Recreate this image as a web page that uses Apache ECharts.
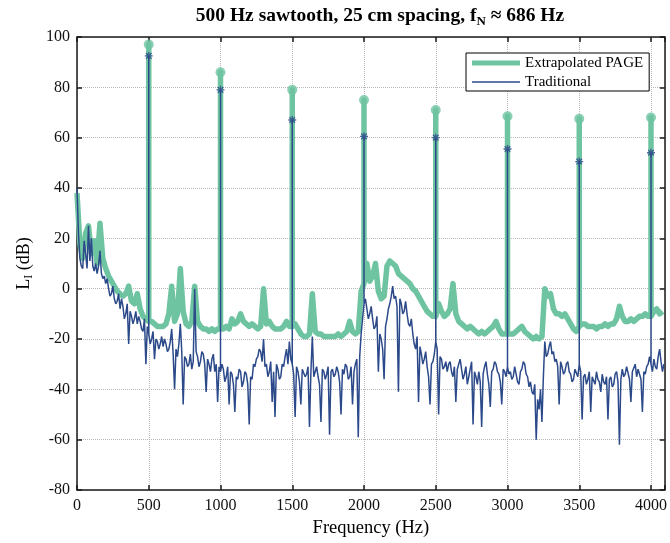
<!DOCTYPE html>
<html><head><meta charset="utf-8">
<script src="https://cdn.jsdelivr.net/npm/echarts@6/dist/echarts.min.js"></script>
<style>html,body{margin:0;padding:0;background:#fff}#c{width:670px;height:543px}</style>
</head><body><div id="c"></div>
<script>
// sample spacing of the level arrays (Hz)
const PAGE_STEP_HZ = 20;
const TRAD_STEP_HZ = 10;
// Extrapolated PAGE levels (dB), 0..4080 Hz every 20 Hz
const pageLevels = [
  38, 18, 12, 22, 25, 14, 19, 10, 26, 12,
  8, 5, 3, 1, -1, -2, -3, -2, 1, -5,
  -6, -2, -8, -11, -12, -13, -13, -14, -15, -15,
  -15, -14, -10, 1, -13, -10, 8, -9, -14, -15,
  -13, 1, -13, -15, -16, -16, -17, -16, -17, -16,
  -16, -16, -15, -16, -12, -14, -13, -10, -13, -14,
  -15, -14, -15, -16, -15, 0, -14, -13, -15, -16,
  -16, -16, -15, -13, -15, -15, -14, -16, -18, -19,
  -19, -18, -2, -17, -18, -18, -19, -19, -19, -19,
  -19, -18, -19, -18, -17, -13, -17, -18, -17, -1,
  2, 10, 3, 5, 10, -1, -4, -3, 9, 11,
  10, 9, 6, 5, 4, 3, 2, 0, -1, -3,
  -5, -7, -9, -10, -11, -11, -6, -9, -11, -10,
  -8, 2, -10, -13, -14, -15, -16, -15, -16, -17,
  -18, -17, -18, -17, -16, -15, -13, -16, -18, -18,
  -18, -18, -18, -17, -16, -15, -17, -18, -19, -20,
  -19, -20, -19, 0, -3, -2, -8, -10, -10, -11,
  -10, -12, -14, -16, -17, -15, -14, -14, -15, -15,
  -15, -16, -15, -15, -14, -15, -14, -14, -12, -7,
  -11, -13, -13, -12, -13, -12, -11, -11, -10, -11,
  -11, -9, -8, -10, -9
];
// Traditional levels (dB), 0..4090 Hz every 10 Hz
const tradLevels = [
  40, 22, 12, 9, 8, 19, 14, 8, 25, 11, 20, 9, 7, 10, 6, 9, 15, 6, 4, 5,
  2, 4, 0, -3, -2, 1, -4, -6, -5, -2, -8, -4, -7, -12, -10, -6, -22, -9, -11, -14,
  -12, -9, -14, -11, -13, -16, -17, -12, -30, -15, -18, -22, -20, -17, -28, -20, -21, -24, -22, -19,
  -23, -20, -22, -25, -24, -21, -16, -26, -40, -24, -27, -22, -14, -25, -46, -27, -28, -31, -30, -26,
  -32, -29, 0, -25, -27, -31, -29, -25, -26, -30, -41, -28, -30, -33, -28, -26, -33, -30, -45, -31,
  -33, -30, -32, -37, -35, -31, -46, -33, -34, -38, -49, -35, -36, -32, -33, -39, -37, -33, -34, -38,
  -54, -35, -36, -30, -31, -28, -27, -24, -25, -29, -20, -31, -30, -35, -33, -29, -45, -33, -51, -30,
  -32, -36, -35, -30, -31, -27, -24, -30, -21, -28, -30, -34, -51, -31, -33, -37, -46, -32, -32, -35,
  -34, -31, -55, -33, -19, -35, -33, -31, -35, -38, -53, -32, -33, -36, -34, -31, -58, -33, -32, -35,
  -34, -31, -33, -37, -50, -32, -34, -30, -31, -36, -35, -31, -46, -33, -30, -28, -59, -27, -18, -12,
  -6, -4, -8, -12, -10, -7, -12, -16, -15, -11, -33, -18, -20, -24, -36, -15, -12, -8, -6, -3,
  1, -4, -3, -7, -41, -4, -6, -10, -9, -5, -10, -14, -15, -12, -18, -22, -24, -19, -45, -23,
  -26, -30, -28, -25, -31, -35, -46, -30, -29, -26, -21, -24, -50, -27, -28, -32, -31, -29, -33, -30,
  -29, -33, -35, -31, -45, -32, -30, -28, -32, -36, -34, -31, -38, -35, -32, -29, -54, -33, -35, -38,
  -33, -37, -55, -34, -31, -29, -34, -38, -47, -33, -32, -29, -30, -33, -34, -37, -46, -32, -33, -35,
  -31, -34, -33, -36, -35, -31, -34, -37, -38, -33, -32, -29, -30, -34, -35, -39, -37, -41, -42, -38,
  -60, -44, -48, -40, -53, -35, -21, -27, -26, -23, -21, -26, -25, -29, -28, -31, -46, -29, -31, -34,
  -33, -30, -29, -33, -34, -37, -36, -32, -32, -35, -30, -33, -52, -35, -34, -38, -36, -33, -49, -35,
  -35, -38, -33, -36, -37, -41, -34, -37, -38, -35, -52, -36, -35, -39, -38, -34, -33, -37, -62, -36,
  -32, -35, -34, -31, -31, -36, -45, -33, -33, -30, -35, -32, -32, -36, -49, -33, -34, -31, -30, -27,
  -30, -33, -28, -31, -32, -27, -24, -29, -33, -30
];
// harmonic peaks
const harmonicFreqs = [500, 1000, 1500, 2000, 2500, 3000, 3500, 4000];
const pagePeaks = [97, 86, 79, 75, 71, 68.5, 67.5, 68];
const tradPeaks = [92.5, 79, 67, 60.5, 60, 55.5, 50.5, 54];

const SERIF = 'Liberation Serif, Times New Roman, serif';
const GREEN = '#6ec4a1';
const BLUE = '#2c4a8a';

function buildLine(levels, step, peaks) {
  const out = [];
  levels.forEach((v, i) => {
    const f = i * step;
    const h = harmonicFreqs.indexOf(f);
    if (h >= 0) { out.push([f, v], [f, peaks[h]], [f, v]); }
    else out.push([f, v]);
  });
  return out;
}
const pagePeakPts = harmonicFreqs.map((f, i) => [f, pagePeaks[i]]);
const tradPeakPts = harmonicFreqs.map((f, i) => [f, tradPeaks[i]]);

const chart = echarts.init(document.getElementById('c'), null, {renderer: 'canvas'});
const axisLineStyle = {color: '#1a1a1a', width: 1.5};
const tickStyle = {show: true, inside: true, length: 5, lineStyle: {color: '#1a1a1a', width: 1.5}};
chart.setOption({
  animation: false,
  backgroundColor: '#fff',
  title: {
    text: '{m|500 Hz sawtooth, 25 cm spacing, f}{s|N}{m| \u2248 686 Hz}',
    left: 375, top: 1, textAlign: 'center',
    textStyle: {
      rich: {
        m: {fontFamily: SERIF, fontSize: 19.5, fontWeight: 'bold', color: '#000', lineHeight: 22, verticalAlign: 'top'},
        s: {fontFamily: SERIF, fontSize: 13, fontWeight: 'bold', color: '#000', lineHeight: 13, verticalAlign: 'bottom', padding: [12, 0, 0, 0]}
      }
    }
  },
  legend: {
    data: [
      {name: 'Extrapolated PAGE', icon: 'path://M0,0H48V5H0Z'},
      {name: 'Traditional', icon: 'path://M0,0H48V1.3H0Z'}
    ],
    orient: 'vertical', left: 466, top: 53, align: 'left',
    itemWidth: 48, itemHeight: 16, itemGap: 3, itemTextGap: 7,
    padding: [2, 6, 1, 6],
    borderColor: '#000', borderWidth: 1, backgroundColor: '#fff',
    textStyle: {fontFamily: SERIF, fontSize: 15, color: '#000', lineHeight: 16}
  },
  grid: {left: 77, right: 1, top: 37, bottom: 53, containLabel: false},
  xAxis: [{
    type: 'value', min: 0, max: 4096, interval: 500,
    axisLine: {show: true, onZero: false, lineStyle: axisLineStyle},
    axisTick: tickStyle,
    axisLabel: {fontFamily: SERIF, fontSize: 16, color: '#111', margin: 8,
      formatter: v => (v % 500 === 0 ? String(v) : '')},
    splitLine: {show: true, lineStyle: {type: 'dotted', color: '#b8b8b8', width: 1}},
    name: 'Frequency (Hz)', nameLocation: 'middle', nameGap: 27,
    nameTextStyle: {fontFamily: SERIF, fontSize: 18.5, color: '#000'}
  }, {
    type: 'value', position: 'top', min: 0, max: 4096, interval: 500,
    axisLine: {show: true, onZero: false, lineStyle: axisLineStyle},
    axisTick: tickStyle, axisLabel: {show: false}, splitLine: {show: false}
  }],
  yAxis: [{
    type: 'value', min: -80, max: 100, interval: 20,
    axisLine: {show: true, onZero: false, lineStyle: axisLineStyle},
    axisTick: tickStyle,
    axisLabel: {fontFamily: SERIF, fontSize: 16, color: '#111', margin: 7},
    splitLine: {show: true, lineStyle: {type: 'dotted', color: '#b8b8b8', width: 1}},
    name: '{m|L}{s|I}{m| (dB)}', nameLocation: 'middle', nameGap: 40,
    nameTextStyle: {
      rich: {
        m: {fontFamily: SERIF, fontSize: 18, color: '#000', lineHeight: 20, verticalAlign: 'top'},
        s: {fontFamily: SERIF, fontSize: 12, color: '#000', lineHeight: 12, verticalAlign: 'bottom', padding: [11, 0, 0, 0]}
      }
    }
  }, {
    type: 'value', position: 'right', min: -80, max: 100, interval: 20,
    axisLine: {show: true, onZero: false, lineStyle: axisLineStyle},
    axisTick: tickStyle, axisLabel: {show: false}, splitLine: {show: false}
  }],
  series: [
    {
      name: 'Extrapolated PAGE', type: 'line', data: buildLine(pageLevels, PAGE_STEP_HZ, pagePeaks),
      showSymbol: false, symbol: 'none', z: 2,
      itemStyle: {color: GREEN},
      lineStyle: {color: GREEN, width: 5.5, join: 'round'}
    },
    {
      name: 'Traditional', type: 'line', data: buildLine(tradLevels, TRAD_STEP_HZ, tradPeaks),
      showSymbol: false, symbol: 'none', z: 3,
      itemStyle: {color: BLUE},
      lineStyle: {color: BLUE, width: 1.5}
    },
    {
      name: 'PAGE peaks', type: 'scatter', data: pagePeakPts, z: 4,
      symbol: 'circle', symbolSize: 10, itemStyle: {color: GREEN}
    },
    {
      name: 'Traditional peaks', type: 'scatter', data: tradPeakPts, z: 5,
      symbol: 'path://M5,0L5,10M0,5L10,5M1.5,1.5L8.5,8.5M1.5,8.5L8.5,1.5', symbolSize: 8,
      itemStyle: {color: 'none', borderColor: BLUE, borderWidth: 1.4}
    }
  ]
});
</script>
</body></html>
